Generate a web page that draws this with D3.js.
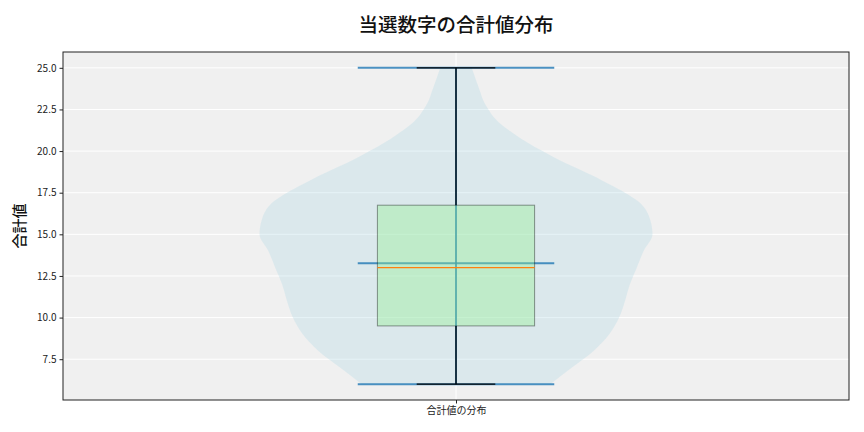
<!DOCTYPE html>
<html><head><meta charset="utf-8">
<script src="https://cdn.jsdelivr.net/npm/d3@7"></script>
<style>body{margin:0;background:#fff;} text{font-family:"Noto Sans CJK JP","Noto Sans",sans-serif;}</style>
</head><body><svg id="c" width="864" height="432"></svg>
<script>
// ---- data ----
const title = "当選数字の合計値分布";
const yLabel = "合計値";
const categories = ["合計値の分布"];
const yTicks = [7.5, 10.0, 12.5, 15.0, 17.5, 20.0, 22.5, 25.0];
// violin profile: sample values and relative density (max = 1)
const violinValues  = [25, 24.5, 24, 23.5, 23, 22.5, 22, 21.5, 21, 20.5, 20, 19.5, 19, 18.5, 18, 17.5, 17, 16, 15, 14, 13, 12, 11, 10, 9, 8, 7, 6];
const violinDensity = [0.08,0.095,0.11,0.125,0.14,0.165,0.195,0.24,0.30,0.365,0.44,0.52,0.61,0.70,0.78,0.86,0.925,0.985,1.00,0.955,0.92,0.885,0.86,0.83,0.78,0.70,0.59,0.48];
// box statistics
const boxMin = [6];
const boxQ1 = [9.5];
const boxMedian = [13];
const boxQ3 = [16.75];
const boxMax = [25];
const meanValue = [13.27];

// ---- layout ----
const svg = d3.select("#c");
const L = 63, R = 849, T = 52, B = 400;
const x = d3.scaleLinear().domain([0.5, 1.5]).range([L, R]);
const y = d3.scaleLinear().domain([5.05, 25.95]).range([B, T]);
const pos = 1, violinW = 0.5, boxW = 0.2;

svg.append("rect").attr("x", L).attr("y", T).attr("width", R - L).attr("height", B - T).attr("fill", "#f0f0f0");

// grid
const g = svg.append("g");
g.selectAll(".hg").data(yTicks).join("line")
  .attr("x1", L).attr("x2", R).attr("y1", d => y(d)).attr("y2", d => y(d))
  .attr("stroke", "#fff").attr("stroke-width", 1);
g.append("line").attr("x1", x(pos)).attr("x2", x(pos)).attr("y1", T).attr("y2", B)
  .attr("stroke", "#fff").attr("stroke-width", 1);

// violin
const vdata = violinValues.map((v, i) => ({v, d: violinDensity[i]}));
const area = d3.area().curve(d3.curveMonotoneY)
  .y(d => y(d.v))
  .x0(d => x(pos - d.d * violinW / 2))
  .x1(d => x(pos + d.d * violinW / 2));
svg.append("path").datum(vdata).attr("d", area).attr("fill", "#add8e6").attr("fill-opacity", 0.3);

const blue = "#1f77b4";
const capHalf = violinW / 4;
// violin extrema + mean lines and vertical bar
[boxMin[0], boxMax[0], meanValue[0]].forEach(v => {
  svg.append("line").attr("x1", x(pos - capHalf)).attr("x2", x(pos + capHalf))
    .attr("y1", y(v)).attr("y2", y(v)).attr("stroke", blue).attr("stroke-width", 2).attr("stroke-opacity", 0.8);
});
svg.append("line").attr("x1", x(pos)).attr("x2", x(pos)).attr("y1", y(boxMin[0])).attr("y2", y(boxMax[0]))
  .attr("stroke", blue).attr("stroke-width", 2).attr("stroke-opacity", 0.8);

// box plot
const bx0 = x(pos - boxW / 2), bx1 = x(pos + boxW / 2);
// whiskers
[[boxQ1[0], boxMin[0]], [boxQ3[0], boxMax[0]]].forEach(([a, b]) => {
  svg.append("line").attr("x1", x(pos)).attr("x2", x(pos)).attr("y1", y(a)).attr("y2", y(b))
    .attr("stroke", "#000").attr("stroke-width", 1.3);
  svg.append("line").attr("x1", x(pos - boxW / 4)).attr("x2", x(pos + boxW / 4)).attr("y1", y(b)).attr("y2", y(b))
    .attr("stroke", "#000").attr("stroke-width", 1.3);
});
svg.append("rect").attr("x", bx0).attr("y", y(boxQ3[0])).attr("width", bx1 - bx0).attr("height", y(boxQ1[0]) - y(boxQ3[0]))
  .attr("fill", "#90ee90").attr("fill-opacity", 0.38).attr("stroke", "#000").attr("stroke-opacity", 0.4).attr("stroke-width", 1);
svg.append("line").attr("x1", bx0).attr("x2", bx1).attr("y1", y(boxMedian[0])).attr("y2", y(boxMedian[0]))
  .attr("stroke", "#ff7f0e").attr("stroke-width", 1.2);

// frame
svg.append("rect").attr("x", L).attr("y", T).attr("width", R - L).attr("height", B - T)
  .attr("fill", "none").attr("stroke", "#222").attr("stroke-width", 1);

// axes
const ya = svg.append("g").attr("transform", `translate(${L},0)`)
  .call(d3.axisLeft(y).tickValues(yTicks).tickFormat(d3.format(".1f")).tickSize(3.5).tickPadding(3));
ya.select(".domain").remove();
ya.selectAll("text").attr("font-size", 10).attr("fill", "#222").style("font-family", '"Noto Sans CJK JP"');
ya.selectAll("line").attr("stroke", "#222");

const xa = svg.append("g").attr("transform", `translate(0,${B})`)
  .call(d3.axisBottom(x).tickValues([pos]).tickFormat(() => categories[0]).tickSize(3.5).tickPadding(3));
xa.select(".domain").remove();
xa.selectAll("text").attr("font-size", 10).attr("fill", "#222").style("font-family", '"Noto Sans CJK JP"');
xa.selectAll("line").attr("stroke", "#222");

svg.append("text").attr("x", 456).attr("y", 32).attr("text-anchor", "middle")
  .attr("font-size", 19.5).attr("font-weight", 500).attr("fill", "#111").text(title);
svg.append("text").attr("transform", `translate(25,${(T + B) / 2}) rotate(-90)`).attr("text-anchor", "middle")
  .attr("font-size", 15).attr("font-weight", 500).attr("fill", "#111").text(yLabel);
</script></body></html>
